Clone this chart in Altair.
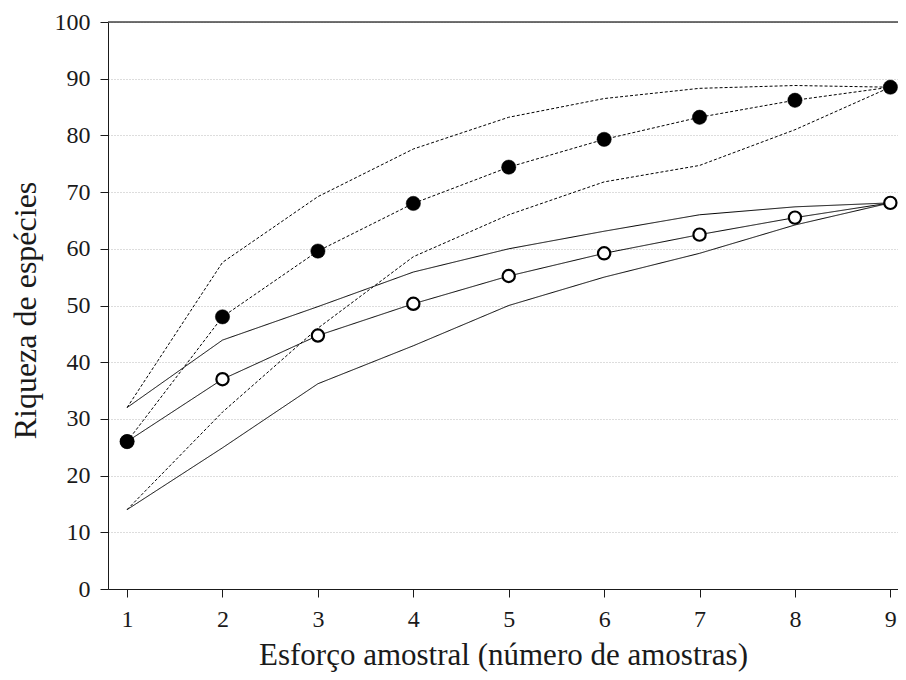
import altair as alt
import pandas as pd

# x: sampling effort (number of samples)
esforco = [1, 2, 3, 4, 5, 6, 7, 8, 9]

# Filled circles series (dashed lines) - mean and confidence bounds
cheio_media = [26, 48, 59.6, 68.0, 74.4, 79.3, 83.2, 86.2, 88.5]
cheio_sup = [32, 57.6, 69.2, 77.6, 83.2, 86.5, 88.3, 88.8, 88.5]
cheio_inf = [14, 31.2, 46.0, 58.6, 66.0, 71.8, 74.7, 81.0, 88.5]

# Open circles series (solid lines) - mean and confidence bounds
vazio_media = [26, 37, 44.7, 50.3, 55.2, 59.2, 62.5, 65.5, 68.1]
vazio_sup = [32, 43.9, 49.8, 55.9, 60.0, 63.1, 66.0, 67.4, 68.1]
vazio_inf = [14, 24.9, 36.2, 42.9, 50.0, 55.0, 59.2, 64.2, 68.1]

y_ticks = [0, 10, 20, 30, 40, 50, 60, 70, 80, 90, 100]

rows = []
for name, vals, style in [
    ("cheio_sup", cheio_sup, "dash"),
    ("cheio_inf", cheio_inf, "dash"),
    ("cheio_media", cheio_media, "dash"),
    ("vazio_sup", vazio_sup, "solid"),
    ("vazio_inf", vazio_inf, "solid"),
    ("vazio_media", vazio_media, "solid"),
]:
    for x, v in zip(esforco, vals):
        rows.append({"x": x, "y": v, "serie": name, "estilo": style})
lines_df = pd.DataFrame(rows)

pts_cheio = pd.DataFrame({"x": esforco, "y": cheio_media})
pts_vazio = pd.DataFrame({"x": esforco, "y": vazio_media})

FONT = "Liberation Serif"
xscale = alt.Scale(domain=[0.80, 9.08], nice=False, zero=False)
yscale = alt.Scale(domain=[0, 100], nice=False)

x_enc = alt.X(
    "x:Q",
    scale=xscale,
    axis=alt.Axis(
        values=esforco,
        format="d",
        title="Esforço amostral (número de amostras)",
        grid=False,
        tickSize=8,
        labelPadding=10,
        labelFontSize=24,
        labelFont=FONT,
        labelColor="#1a1a1a",
        labelOverlap=False,
        labelBound=False,
        titleFont=FONT,
        titleFontSize=31,
        titleFontWeight="normal",
        titleColor="#1a1a1a",
        titleBaseline="alphabetic",
        titleY=75,
        domainColor="#1a1a1a",
        tickColor="#1a1a1a",
    ),
)
y_enc = alt.Y(
    "y:Q",
    scale=yscale,
    axis=alt.Axis(
        values=y_ticks,
        title="Riqueza de espécies",
        grid=True,
        gridDash=[1, 2],
        gridColor="#bbbbbb",
        tickSize=8,
        labelPadding=10,
        labelFontSize=24,
        labelFont=FONT,
        labelColor="#1a1a1a",
        titleFont=FONT,
        titleFontSize=32,
        titleFontWeight="normal",
        titleColor="#1a1a1a",
        titleBaseline="alphabetic",
        titleX=-73,
        titleY=288,
        domainColor="#1a1a1a",
        tickColor="#1a1a1a",
    ),
)

lines = alt.Chart(lines_df).mark_line(color="black", strokeWidth=1).encode(
    x=x_enc,
    y=y_enc,
    detail="serie:N",
    strokeDash=alt.StrokeDash(
        "estilo:N",
        scale=alt.Scale(domain=["dash", "solid"], range=[[3, 2], [1, 0]]),
        legend=None,
    ),
)

top_rule = alt.Chart(pd.DataFrame({"y": [100]})).mark_rule(
    color="#444", strokeWidth=1.5
).encode(y=alt.Y("y:Q", scale=yscale))

open_pts = alt.Chart(pts_vazio).mark_point(
    shape="circle", filled=True, fill="white", stroke="black", strokeWidth=2.2,
    size=150, opacity=1
).encode(x=alt.X("x:Q", scale=xscale), y=alt.Y("y:Q", scale=yscale))

filled_pts = alt.Chart(pts_cheio).mark_point(
    shape="circle", filled=True, fill="black", stroke="black", strokeWidth=0.5,
    size=205, opacity=1
).encode(x=alt.X("x:Q", scale=xscale), y=alt.Y("y:Q", scale=yscale))

chart = (
    alt.layer(lines, top_rule, open_pts, filled_pts)
    .properties(
        width=790,
        height=567,
        autosize=alt.AutoSizeParams(type="none"),
        padding={"left": 100, "top": 14, "right": 0, "bottom": 83},
    )
    .configure_view(stroke=None)
    .configure(background="white")
)

chart.save("out.html", embed_options={"renderer": "svg", "actions": False})
